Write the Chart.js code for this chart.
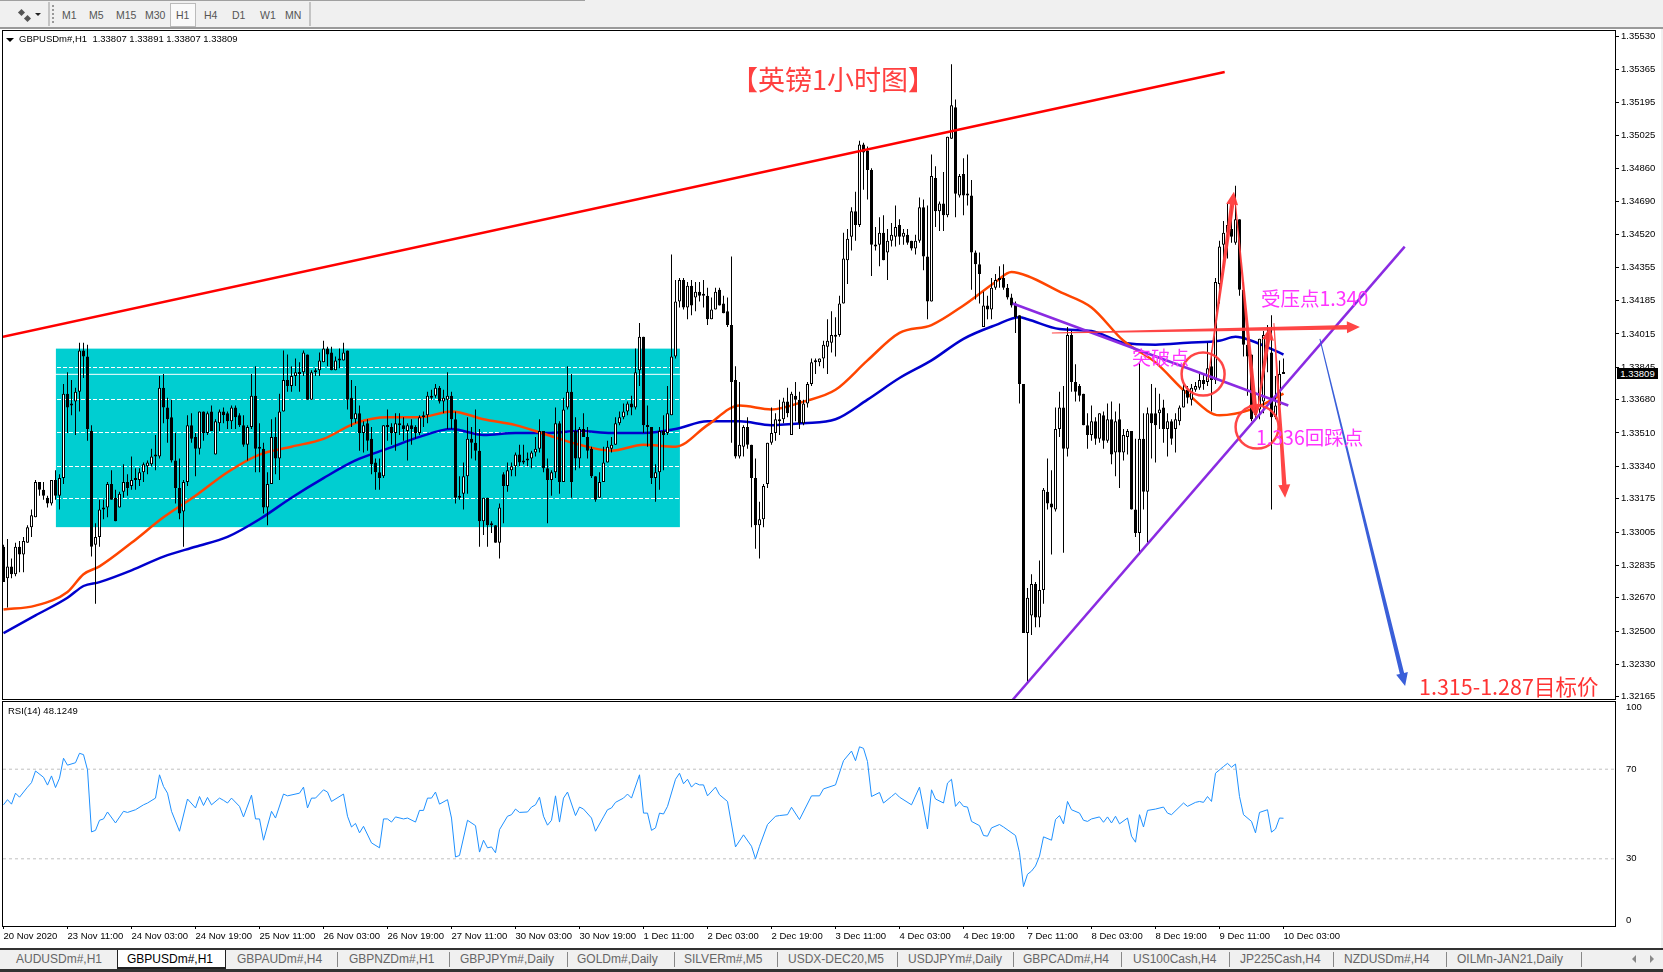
<!DOCTYPE html>
<html lang="en">
<head>
    <meta charset="UTF-8">
    <title>GBPUSDm#,H1</title>
    <style>
        html, body { margin: 0; padding: 0; background: #f0f0f0; }
        #page { position: relative; width: 1663px; height: 972px; overflow: hidden; font-family: "Liberation Sans", sans-serif; }
        #toolbar { position: absolute; left: 0; top: 0; width: 1663px; height: 27px; background: #f0f0f0; border-bottom: 2px solid #9a9a9a; box-sizing: content-box; }
        #toolbar .topline { position: absolute; left: 0; top: 0; width: 585px; height: 1px; background: #a0a0a0; }
        #toolbar span { position: absolute; top: 9px; font-size: 10.5px; color: #555; }
        #toolbar .sel { position: absolute; left: 170px; top: 3px; width: 24px; height: 22px; border: 1px solid #bbb; background: #fafafa; }
        #toolbar .sep { position: absolute; top: 2px; width: 2px; height: 24px; background: #c4c4c4; }
        #toolbar .grip { position: absolute; left: 52px; top: 5px; width: 4px; height: 18px; border-left: 2px dotted #999; }
        #toolbar .icon1, #toolbar .icon2 { position: absolute; width: 5px; height: 5px; transform: rotate(45deg); background: #555; }
        #toolbar .down { position: absolute; left: 35px; top: 13px; width: 0; height: 0; border: 3.5px solid transparent; border-top: 3.5px solid #222; }
        #panel { position: absolute; left: 0; top: 29px; width: 1661px; height: 920px; background: #fff; }
        canvas { position: absolute; left: 0; }
        #mainChart { top: 30px; }
        #rsiChart { top: 700px; }
        .lbl { position: absolute; white-space: nowrap; }
        .head { left: 19px; top: 33px; font-size: 9.5px; color: #000; }
        .tri { position: absolute; left: 6px; top: 38px; width: 0; height: 0; border: 4px solid transparent; border-top: 4px solid #000; }
        .rsilab { left: 8px; top: 705px; font-size: 9.5px; color: #000; }
        .bid { left: 1617px; top: 368px; width: 41px; height: 11px; line-height: 11px; background: #000; color: #fff; font-size: 9.5px; text-align: center; }
        .note { font-family: "Noto Sans CJK SC", sans-serif; line-height: 1; }
        #tabs { position: absolute; left: 0; top: 948px; width: 1663px; height: 21px; background: #f0f0f0; border-top: 2px solid #333; box-sizing: border-box; }
        #tabs span { position: absolute; top: 2px; font-size: 12px; color: #666; white-space: nowrap; }
        #tabs i { position: absolute; top: 2px; width: 1px; height: 15px; background: #888; }
        #tabs b { position: absolute; top: 5px; width: 0; height: 0; border: 4px solid transparent; }
        #tabs .active { position: absolute; left: 117px; top: 0; width: 107px; height: 17px; background: #fff; border: 1px solid #222; border-top: none; border-bottom: 2px solid #222; }
        #bottom { position: absolute; left: 0; top: 969px; width: 1663px; height: 3px; background: #333; }
    </style>
</head>
<body>
<div id="page">
    <div id="toolbar">
        <div class="topline"></div>
        <div class="icon1" style="left:19px;top:10px"></div>
        <div class="icon2" style="left:25px;top:16px"></div>
        <div class="down"></div>
        <div class="sep" style="left:48px"></div>
        <div class="grip"></div>
        <div class="sel"></div>
        <div class="sep" style="left:309px"></div>
    </div>
    <div id="panel"></div>
    <canvas id="mainChart" width="1663" height="670"></canvas>
    <canvas id="rsiChart" width="1663" height="248"></canvas>
    <div class="tri"></div>
    <div class="lbl head">GBPUSDm#,H1&nbsp; 1.33807 1.33891 1.33807 1.33809</div>
    <div class="lbl rsilab">RSI(14) 48.1249</div>
    <div class="lbl bid">1.33809</div>
    <div class="lbl note" style="left:731px;top:65px;font-size:27px;color:#ff4040">【英镑1小时图】</div>
    <div class="lbl note" style="left:1261px;top:288px;font-size:19.5px;color:#ff33ff">受压点1.340</div>
    <div class="lbl note" style="left:1132px;top:347px;font-size:19px;color:#ff33ff">突破点</div>
    <div class="lbl note" style="left:1256px;top:427px;font-size:19.5px;color:#ff33ff">1.336回踩点</div>
    <div class="lbl note" style="left:1419px;top:675px;font-size:21.5px;color:#ff3333">1.315-1.287目标价</div>
    <div id="tabs"><div class="active"></div></div>
    <div id="bottom"></div>
</div>

<script src="https://cdn.jsdelivr.net/npm/chart.js"></script>
<script>
    // prices are in 1/10000 (13381 = 1.3381), one entry per hourly bar
    const opens = [
        13293,13277,13283,13279,13293,13289,13295,13303,13308,13326,
        13322,13318,13315,13327,13319,13328,13371,13365,13367,13372,
        13393,13390,13352,13294,13298,13312,13313,13325,13318,13313,
        13321,13326,13324,13328,13327,13331,13334,13335,13339,13339,
        13374,13364,13359,13337,13323,13311,13326,13355,13349,13343,
        13362,13351,13362,13340,13356,13362,13361,13357,13364,13360,
        13355,13345,13354,13370,13344,13343,13313,13325,13349,13338,
        13362,13378,13375,13380,13382,13382,13391,13368,13382,13383,
        13387,13394,13392,13383,13389,13388,13393,13369,13358,13361,
        13351,13356,13348,13336,13331,13329,13355,13354,13351,13356,
        13355,13352,13355,13354,13351,13360,13360,13370,13370,13374,
        13367,13368,13370,13358,13318,13320,13329,13348,13346,13342,
        13306,13318,13305,13304,13295,13330,13324,13332,13334,13340,
        13336,13338,13338,13341,13343,13352,13333,13327,13331,13356,
        13326,13364,13372,13352,13338,13353,13349,13343,13329,13318,
        13326,13336,13343,13345,13356,13359,13362,13366,13364,13383,
        13400,13355,13354,13328,13331,13352,13351,13360,13390,13418,
        13429,13415,13426,13420,13423,13422,13421,13409,13414,13424,
        13417,13413,13406,13378,13339,13344,13354,13345,13328,13304,
        13307,13325,13346,13351,13358,13358,13367,13350,13370,13368,
        13356,13366,13376,13387,13387,13389,13395,13397,13400,13401,
        13417,13439,13451,13464,13457,13498,13495,13485,13446,13447,
        13453,13443,13449,13451,13457,13451,13452,13449,13445,13449,
        13466,13441,13418,13481,13464,13468,13462,13501,13517,13472,
        13483,13473,13472,13443,13437,13405,13416,13414,13425,13430,
        13430,13425,13420,13417,13411,13376,13249,13258,13274,13257,
        13271,13321,13315,13312,13353,13364,13343,13401,13377,13375,
        13371,13355,13350,13357,13348,13360,13347,13358,13341,13358,
        13341,13349,13352,13312,13300,13348,13321,13361,13361,13361,
        13364,13353,13357,13353,13357,13364,13373,13368,13373,13374,
        13378,13377,13385,13378,13427,13447,13453,13455,13448,13460,
        13424,13396,13391,13363,13363,13367,13402,13392,13359,13365,
        13381
    ];
    const highs = [
        13294,13297,13287,13295,13296,13298,13304,13312,13327,13326,
        13326,13319,13327,13332,13330,13376,13382,13378,13374,13397,
        13397,13396,13355,13305,13317,13317,13326,13332,13322,13321,
        13335,13330,13339,13333,13333,13336,13337,13343,13350,13380,
        13381,13369,13368,13351,13338,13327,13360,13361,13351,13362,
        13362,13362,13365,13358,13363,13364,13362,13365,13365,13361,
        13360,13355,13381,13385,13356,13346,13331,13358,13359,13371,
        13393,13391,13385,13389,13387,13393,13391,13383,13384,13392,
        13398,13395,13395,13390,13394,13397,13393,13378,13375,13365,
        13357,13358,13354,13338,13338,13355,13363,13356,13361,13361,
        13359,13356,13358,13355,13360,13362,13372,13373,13376,13375,
        13373,13382,13372,13362,13329,13336,13359,13354,13363,13353,
        13318,13318,13306,13304,13315,13331,13336,13336,13341,13345,
        13345,13341,13342,13349,13358,13352,13338,13332,13364,13357,
        13369,13385,13381,13359,13354,13361,13354,13344,13329,13331,
        13344,13347,13349,13359,13362,13366,13367,13370,13394,13407,
        13400,13365,13354,13335,13354,13360,13375,13442,13429,13430,
        13430,13428,13429,13428,13428,13429,13425,13420,13425,13425,
        13421,13420,13441,13385,13377,13355,13359,13345,13338,13316,
        13325,13346,13364,13361,13368,13369,13374,13372,13377,13372,
        13368,13377,13389,13389,13389,13398,13409,13413,13410,13421,
        13453,13455,13466,13474,13500,13499,13497,13486,13456,13461,
        13462,13455,13458,13467,13460,13455,13455,13449,13452,13471,
        13470,13467,13493,13487,13469,13484,13502,13539,13521,13483,
        13491,13493,13480,13444,13443,13423,13421,13430,13432,13436,
        13437,13427,13422,13418,13411,13376,13272,13279,13275,13286,
        13323,13338,13332,13364,13372,13375,13405,13403,13386,13376,
        13371,13361,13365,13359,13361,13362,13366,13367,13362,13366,
        13353,13353,13352,13348,13387,13361,13364,13376,13374,13371,
        13368,13361,13358,13361,13365,13376,13375,13376,13377,13381,
        13381,13397,13393,13430,13449,13459,13468,13467,13477,13460,
        13428,13399,13391,13371,13399,13403,13406,13411,13380,13388,
        13389
    ];
    const lows = [
        13275,13262,13277,13278,13280,13280,13295,13298,13308,13319,
        13317,13313,13314,13317,13312,13325,13351,13360,13350,13362,
        13379,13347,13288,13264,13293,13307,13308,13317,13306,13313,
        13318,13319,13322,13322,13324,13326,13330,13334,13332,13338,
        13356,13346,13336,13315,13307,13293,13324,13346,13329,13340,
        13347,13350,13352,13340,13352,13356,13353,13353,13353,13354,
        13344,13337,13353,13331,13331,13310,13304,13325,13330,13327,
        13362,13372,13372,13375,13372,13380,13368,13368,13380,13380,
        13387,13385,13383,13383,13384,13388,13363,13354,13356,13342,
        13341,13342,13330,13322,13322,13328,13347,13345,13342,13350,
        13347,13337,13345,13348,13350,13354,13356,13368,13369,13366,
        13361,13353,13353,13315,13317,13312,13320,13338,13337,13293,
        13299,13293,13300,13295,13287,13305,13321,13329,13329,13334,
        13335,13334,13333,13339,13341,13331,13305,13319,13328,13320,
        13326,13363,13318,13332,13333,13349,13338,13328,13316,13318,
        13326,13336,13341,13345,13355,13358,13360,13360,13363,13375,
        13351,13344,13325,13316,13322,13332,13350,13360,13389,13415,
        13414,13409,13411,13413,13418,13415,13406,13409,13414,13416,
        13412,13405,13346,13338,13338,13339,13343,13303,13292,13287,
        13303,13323,13345,13347,13350,13356,13359,13350,13357,13353,
        13355,13364,13375,13381,13385,13384,13381,13392,13390,13400,
        13417,13427,13444,13449,13456,13475,13470,13431,13444,13436,
        13439,13429,13446,13446,13447,13447,13447,13444,13442,13448,
        13434,13409,13418,13456,13454,13454,13461,13501,13461,13471,
        13462,13467,13424,13419,13417,13405,13409,13409,13424,13425,
        13424,13419,13415,13402,13366,13249,13224,13248,13252,13252,
        13264,13312,13289,13311,13349,13290,13339,13372,13367,13367,
        13355,13343,13347,13345,13346,13343,13346,13335,13329,13323,
        13337,13340,13312,13298,13289,13312,13295,13338,13336,13353,
        13346,13339,13345,13341,13355,13364,13366,13365,13372,13373,
        13373,13375,13362,13376,13417,13435,13440,13448,13447,13421,
        13390,13370,13357,13358,13358,13361,13382,13312,13358,13365,
        13381
    ];
    const closes = [
        13275,13283,13279,13293,13289,13296,13303,13309,13326,13322,
        13319,13315,13327,13319,13328,13371,13364,13366,13372,13393,
        13390,13353,13293,13298,13312,13313,13325,13317,13306,13320,
        13326,13323,13327,13327,13331,13335,13336,13339,13340,13374,
        13364,13358,13337,13323,13310,13326,13355,13348,13343,13362,
        13351,13361,13352,13357,13362,13360,13357,13364,13359,13355,
        13345,13354,13370,13343,13343,13313,13325,13349,13338,13362,
        13378,13375,13380,13382,13381,13392,13368,13382,13383,13388,
        13394,13391,13383,13388,13388,13392,13368,13358,13361,13351,
        13355,13347,13335,13331,13328,13355,13354,13351,13356,13355,
        13353,13355,13353,13351,13359,13359,13370,13369,13374,13367,
        13369,13370,13358,13318,13319,13329,13348,13346,13342,13306,
        13318,13304,13304,13295,13313,13324,13332,13334,13340,13336,
        13337,13337,13341,13343,13352,13333,13327,13331,13356,13326,
        13363,13372,13326,13338,13353,13349,13342,13329,13317,13326,
        13336,13344,13345,13356,13359,13362,13366,13364,13382,13400,
        13355,13354,13328,13331,13352,13350,13361,13390,13418,13429,
        13415,13426,13416,13423,13421,13421,13409,13414,13423,13416,
        13412,13406,13377,13339,13345,13354,13345,13328,13304,13307,
        13324,13346,13351,13358,13357,13367,13361,13371,13368,13356,
        13366,13376,13387,13388,13389,13396,13398,13401,13401,13417,
        13440,13450,13464,13457,13498,13494,13485,13447,13447,13453,
        13439,13449,13452,13456,13451,13453,13448,13445,13449,13466,
        13441,13418,13482,13464,13468,13462,13502,13518,13473,13482,
        13472,13472,13443,13437,13432,13416,13414,13425,13429,13429,
        13425,13420,13416,13410,13376,13249,13267,13274,13257,13271,
        13322,13315,13313,13353,13364,13343,13401,13377,13372,13370,
        13355,13350,13357,13348,13361,13347,13358,13340,13357,13341,
        13350,13352,13312,13300,13348,13321,13361,13356,13355,13363,
        13353,13357,13348,13358,13364,13373,13369,13374,13375,13378,
        13376,13384,13378,13428,13446,13453,13457,13451,13460,13424,
        13396,13390,13358,13360,13399,13401,13394,13359,13365,13381,
        13381
    ];

    // moving averages as [bar, price]
    const maFast = [[0,13261],[8,13263],[16,13270],[20,13279],[24,13283],[32,13295],[40,13308],[48,13319],[56,13331],[64,13340],[72,13344],[80,13348],[88,13356],[96,13359],[104,13359],[112,13362],[120,13358],[128,13355],[136,13350],[144,13345],[152,13342],[160,13345],[168,13344],[176,13355],[184,13365],[192,13363],[200,13367],[208,13373],[216,13388],[224,13402],[232,13406],[240,13416],[248,13428],[252,13433],[256,13431],[264,13423],[272,13415],[280,13398],[288,13387],[296,13371],[304,13360],[312,13363],[320,13371]];
    const maSlow = [[0,13249],[8,13258],[16,13267],[20,13273],[24,13275],[32,13281],[40,13288],[48,13293],[56,13298],[64,13307],[72,13318],[80,13328],[88,13337],[96,13343],[104,13349],[112,13353],[120,13350],[128,13351],[136,13351],[144,13352],[152,13351],[160,13351],[168,13353],[176,13357],[184,13357],[192,13355],[200,13356],[208,13358],[216,13368],[224,13379],[232,13388],[240,13399],[248,13406],[254,13410],[256,13409],[264,13404],[272,13403],[280,13397],[288,13396],[296,13397],[304,13398],[308,13400],[312,13398],[320,13391]];

    const rsiPoints = [[0,54.1],[1,56.4],[2,54.4],[3,59.3],[4,57.5],[6,62],[7,64],[8,69.2],[10,66.4],[11,62.9],[12,67],[13,61.8],[14,66],[15,74.9],[16,71.8],[18,72.9],[19,77.1],[20,76.5],[21,69.7],[22,42],[23,42.7],[24,47.2],[25,47.8],[26,50.9],[28,46],[30,51.2],[31,50.7],[33,51.9],[35,54.1],[36,54.9],[38,57.1],[39,67.5],[40,62.3],[41,59.3],[42,51.2],[44,42.3],[46,56.7],[48,52.7],[49,57.8],[50,53.8],[51,57.4],[52,54.1],[54,57.1],[55,56.1],[56,54.9],[57,57.1],[59,53.4],[60,48.7],[62,58.4],[63,47.8],[64,47.8],[65,38.3],[67,51.2],[68,48.2],[70,58.9],[71,58.1],[74,59.3],[75,62],[76,52.7],[77,57.1],[78,57.1],[80,60.8],[81,59.8],[82,55.6],[85,58.9],[86,49],[87,44.2],[88,45.8],[89,41.6],[90,44.5],[92,37.1],[94,34.9],[95,47.8],[96,47.8],[97,46.4],[98,48.7],[100,47.8],[101,48.2],[103,46.4],[104,51.6],[105,51.6],[106,57.1],[107,57.1],[108,59.8],[109,54.4],[111,56.4],[112,48.2],[113,30.8],[114,31.5],[116,47.2],[118,44.8],[119,33],[120,38.3],[121,34.9],[122,35.3],[123,32.7],[124,43],[126,49],[127,49.7],[128,52.2],[129,50.7],[131,50.9],[132,53.1],[133,54.1],[134,57.5],[135,49],[136,45],[137,47.2],[138,58.1],[139,46.4],[140,57.1],[141,59.8],[143,49.3],[144,53.1],[145,52.2],[147,48.2],[148,42.3],[150,48.7],[151,51.9],[152,52.7],[153,55.2],[155,57.1],[156,58.9],[157,57.1],[159,67.5],[160,50.4],[161,50.4],[162,42.7],[163,43.8],[164,50.4],[165,50],[166,53.4],[168,65.5],[169,68.2],[170,63.5],[171,65.5],[172,62],[173,63.8],[174,63],[175,63],[176,58.1],[178,62],[179,58.6],[181,55.6],[183,35.3],[185,40.7],[187,35.6],[188,30],[189,35.6],[191,45.3],[193,49],[194,49.3],[196,49.7],[197,53],[199,47.5],[202,58.1],[204,58.1],[205,61.2],[208,63],[210,73.8],[212,78.1],[213,73.8],[214,80],[215,79.3],[216,73.4],[217,57.8],[219,59.6],[220,54.9],[222,57.8],[223,59.3],[224,57.5],[227,54.1],[229,62],[231,43.3],[232,60.8],[233,56.7],[235,54.9],[236,63.8],[237,65.5],[238,53.4],[239,55.6],[240,53.4],[241,53.1],[242,46.7],[244,44.8],[245,40.4],[246,40.1],[247,43.8],[249,45.3],[250,44.2],[253,40.4],[254,32.7],[255,17.6],[256,23.1],[257,24.5],[258,26.8],[259,31.2],[260,39.8],[262,38.3],[263,47.5],[264,49.3],[265,45.6],[266,55.6],[267,51.9],[269,50.4],[270,47.2],[271,46.7],[272,47.8],[274,48.7],[275,46.3],[276,48.7],[277,46],[278,49],[279,45.6],[281,48.2],[282,40.1],[283,37.4],[284,49.7],[285,44.2],[286,51.6],[288,52.2],[290,53.1],[291,50.4],[292,49.7],[295,54.9],[296,53.4],[298,55.2],[299,55.6],[300,55.2],[301,57.8],[302,55.6],[303,68.2],[305,71.2],[306,72.6],[307,70.9],[308,72.3],[309,57.8],[310,49.7],[312,46.7],[313,41.6],[314,50.7],[316,51.9],[317,41.9],[318,43.3],[319,48.2],[320,48.1]];

    const priceTicks = [1.35530,1.35365,1.35195,1.35025,1.34860,1.34690,1.34520,1.34355,1.34185,1.34015,1.33845,1.33680,1.33510,1.33340,1.33175,1.33005,1.32835,1.32670,1.32500,1.32330,1.32165];
    const rsiTicks = [100,70,30,0];
    const rsiLevels = [70,30];
    const dateBars = [0,16,32,48,64,80,96,112,128,144,160,176,192,208,224,240,256,272,288,304,320];
    const dateLabels = ['20 Nov 2020','23 Nov 11:00','24 Nov 03:00','24 Nov 19:00','25 Nov 11:00','26 Nov 03:00','26 Nov 19:00','27 Nov 11:00','30 Nov 03:00','30 Nov 19:00','1 Dec 11:00','2 Dec 03:00','2 Dec 19:00','3 Dec 11:00','4 Dec 03:00','4 Dec 19:00','7 Dec 11:00','8 Dec 03:00','8 Dec 19:00','9 Dec 11:00','10 Dec 03:00'];
    const timeframes = [['M1',62],['M5',89],['M15',116],['M30',145],['H1',176],['H4',204],['D1',232],['W1',260],['MN',285]];
    const tabs = [['AUDUSDm#,H1',16],['GBPUSDm#,H1',127],['GBPAUDm#,H4',237],['GBPNZDm#,H1',349],['GBPJPYm#,Daily',460],['GOLDm#,Daily',577],['SILVERm#,M5',684],['USDX-DEC20,M5',788],['USDJPYm#,Daily',908],['GBPCADm#,H4',1023],['US100Cash,H4',1133],['JP225Cash,H4',1240],['NZDUSDm#,H4',1344],['OILMn-JAN21,Daily',1457]];
    const tabSeps = [337,449,567,674,777,897,1013,1121,1229,1333,1446,1581];

    // objects on the chart, [bar, price] at each end
    const bidPrice = 13380.9;
    const zone = { from: 13.1, to: 169.1, top: 13394, bottom: 13303 };
    const redTrend = [[-0.15,13400],[305.3,13535]];
    const purpleFall = [[252.3,13417],[321.2,13365]];
    const purpleRise = [[252.3,13215],[350.3,13446]];
    const redArrows = [
        [262.1,13402,339.1,13405],
        [301.1,13378,307.6,13474],
        [307.9,13470,313.1,13359],
        [313.4,13361,316.6,13405],
        [317.6,13407,320.4,13318]
    ];
    const blueArrow = [329.1,13399,350.4,13222];
    const circles = [[299.9,13381],[313.4,13354]];

    const pts = (list) => list.map(p => ({ x: p[0], y: p[1] / 10000 }));
    const bars = opens.map((o, i) => i);

    const el = document.getElementById('toolbar');
    timeframes.forEach(t => {
        const s = document.createElement('span');
        s.textContent = t[0];
        s.style.left = t[1] + 'px';
        el.appendChild(s);
    });
    const tabEl = document.getElementById('tabs');
    tabs.forEach((t, i) => {
        const s = document.createElement('span');
        s.textContent = t[0];
        s.style.left = t[1] + 'px';
        if (i === 1) s.style.color = '#000';
        tabEl.appendChild(s);
    });
    tabSeps.forEach(x => {
        const s = document.createElement('i');
        s.style.left = x + 'px';
        tabEl.appendChild(s);
    });
    // the two scroll arrows at the end of the tab strip
    [[1628, 'borderRight'], [1650, 'borderLeft']].forEach(a => {
        const s = document.createElement('b');
        s.style.left = a[0] + 'px';
        s.style[a[1] + 'Color'] = '#888';
        tabEl.appendChild(s);
    });

    const axisFont = { family: 'Liberation Sans', size: 9.5 };

    const noPad = (s) => { s.paddingTop = 0; s.paddingBottom = 0; s.paddingLeft = 0; s.paddingRight = 0; };

    const frame = {
        id: 'frame',
        afterDraw(chart) {
            const a = chart.chartArea, c = chart.ctx;
            c.save();
            c.strokeStyle = '#000';
            c.lineWidth = 1;
            c.strokeRect(a.left - 0.5, a.top - 0.5, a.right - a.left + 1, a.bottom - a.top + 1);
            c.restore();
        }
    };

    const zonePlugin = {
        id: 'zone',
        beforeDraw(chart) {
            const sx = chart.scales.x, sy = chart.scales.y, c = chart.ctx;
            const x0 = sx.getPixelForValue(zone.from), x1 = sx.getPixelForValue(zone.to);
            const y0 = sy.getPixelForValue(zone.top / 10000), y1 = sy.getPixelForValue(zone.bottom / 10000);
            c.save();
            c.fillStyle = '#00ced1';
            c.fillRect(x0, y0, x1 - x0, y1 - y0);
            c.restore();
        }
    };

    const drawArrow = (c, x0, y0, x1, y1, color) => {
        const len = Math.hypot(x1 - x0, y1 - y0);
        c.save();
        c.translate(x1, y1);
        c.rotate(Math.atan2(y1 - y0, x1 - x0));
        c.fillStyle = color;
        c.beginPath();
        c.moveTo(-len, -0.5);
        c.lineTo(-13, -2.2);
        c.lineTo(-13, -6);
        c.lineTo(0, 0);
        c.lineTo(-13, 6);
        c.lineTo(-13, 2.2);
        c.lineTo(-len, 0.5);
        c.closePath();
        c.fill();
        c.restore();
    };

    const marks = {
        id: 'marks',
        afterDraw(chart) {
            const sx = chart.scales.x, sy = chart.scales.y, c = chart.ctx;
            const px = (b) => sx.getPixelForValue(b), py = (p) => sy.getPixelForValue(p / 10000);
            redArrows.forEach(a => drawArrow(c, px(a[0]), py(a[1]), px(a[2]), py(a[3]), 'rgba(255,60,60,0.95)'));
            drawArrow(c, px(blueArrow[0]), py(blueArrow[1]), px(blueArrow[2]), py(blueArrow[3]), '#3a5fd9');
            c.save();
            c.strokeStyle = 'rgba(255,60,60,0.95)';
            c.lineWidth = 2.5;
            circles.forEach(p => {
                c.beginPath();
                c.arc(px(p[0]), py(p[1]), 21.5, 0, Math.PI * 2);
                c.stroke();
            });
            c.restore();
        }
    };

    new Chart(document.getElementById('mainChart'), {
        type: 'bar',
        data: {
            datasets: [
                {
                    data: bars.map(i => ({ x: i, y: [lows[i] / 10000, highs[i] / 10000] })),
                    barThickness: 1, barPercentage: 1, categoryPercentage: 1, inflateAmount: 0,
                    backgroundColor: '#000', grouped: false, order: 3
                },
                {
                    data: bars.map(i => ({ x: i, y: [Math.min(opens[i], closes[i]) / 10000, Math.max(opens[i], closes[i]) / 10000] })),
                    barThickness: 3, barPercentage: 1, categoryPercentage: 1, inflateAmount: 0,
                    grouped: false, order: 2, minBarLength: 2,
                    backgroundColor: (ctx) => closes[ctx.dataIndex] >= opens[ctx.dataIndex] ? '#fff' : '#000',
                    borderColor: '#000', borderWidth: 1, borderSkipped: false
                },
                { type: 'line', data: pts(maFast), borderColor: '#ff4500', borderWidth: 2.5, pointRadius: 0, cubicInterpolationMode: 'monotone', order: 5 },
                { type: 'line', data: pts(maSlow), borderColor: '#0000cd', borderWidth: 2.5, pointRadius: 0, cubicInterpolationMode: 'monotone', order: 5 },
                { type: 'line', data: pts(redTrend), borderColor: '#ff0000', borderWidth: 2.5, pointRadius: 0, order: 1 },
                { type: 'line', data: pts(purpleFall), borderColor: '#8a2be2', borderWidth: 2.5, pointRadius: 0, order: 1 },
                { type: 'line', data: pts(purpleRise), borderColor: '#8a2be2', borderWidth: 2.5, pointRadius: 0, order: 1 },
                { type: 'line', data: pts([[-0.125,bidPrice],[402.875,bidPrice]]), borderColor: '#fff', borderWidth: 1, pointRadius: 0, order: 6 }
            ]
        },
        options: {
            responsive: false,
            animation: false,
            layout: { padding: { left: 3, top: 1, bottom: 1, right: 0 } },
            plugins: { legend: { display: false }, tooltip: { enabled: false } },
            scales: {
                x: { type: 'linear', display: false, offset: false, min: -0.125, max: 402.875, grid: { display: false, offset: false } },
                y: {
                    position: 'right', min: 1.32154, max: 1.35559, beginAtZero: false,
                    afterBuildTicks: (s) => { s.ticks = priceTicks.map(v => ({ value: v })); },
                    afterFit: (s) => { s.width = 48; noPad(s); },
                    ticks: { autoSkip: false, padding: 2, color: '#000', font: axisFont, callback: (v) => v.toFixed(5) },
                    grid: { color: '#fff', tickColor: '#000', tickLength: 4, tickBorderDash: [] },
                    border: { display: false, dash: [4, 2] }
                }
            }
        },
        plugins: [zonePlugin, frame, marks]
    });

    new Chart(document.getElementById('rsiChart'), {
        type: 'line',
        data: {
            datasets: [
                { data: rsiPoints.map(p => ({ x: p[0], y: p[1] })), borderColor: '#1e90ff', borderWidth: 1, pointRadius: 0, order: 1 },
                ...rsiLevels.map(l => ({ data: [{ x: -0.125, y: l }, { x: 402.875, y: l }], borderColor: '#c0c0c0', borderWidth: 1, borderDash: [3, 3], pointRadius: 0, order: 2 }))
            ]
        },
        options: {
            responsive: false,
            animation: false,
            layout: { padding: { left: 3, top: 2, bottom: 0, right: 0 } },
            plugins: { legend: { display: false }, tooltip: { enabled: false } },
            scales: {
                x: {
                    type: 'linear', min: -0.125, max: 402.875,
                    afterBuildTicks: (s) => { s.ticks = dateBars.map(v => ({ value: v })); },
                    afterFit: (s) => { s.height = 22; noPad(s); },
                    ticks: { autoSkip: false, maxRotation: 0, align: 'start', padding: 2, color: '#000', font: axisFont, callback: (v) => dateLabels[dateBars.indexOf(v)] },
                    grid: { drawOnChartArea: false, tickColor: '#000', tickLength: 3 },
                    border: { display: false }
                },
                y: {
                    position: 'right', min: 0, max: 100,
                    afterBuildTicks: (s) => { s.ticks = rsiTicks.map(v => ({ value: v })); },
                    afterFit: (s) => { s.width = 48; noPad(s); },
                    ticks: {
                        autoSkip: false, padding: 3, color: '#000', font: axisFont,
                        callback: (v) => v === 100 ? ['', '100'] : v === 0 ? ['0', ''] : String(v)
                    },
                    grid: { display: false },
                    border: { display: false }
                }
            }
        },
        plugins: [frame]
    });
</script>
</body>
</html>
